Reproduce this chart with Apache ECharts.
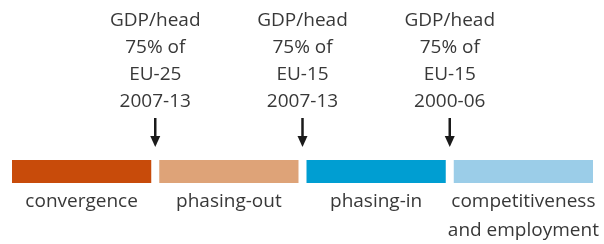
<!DOCTYPE html>
<html>
<head>
<meta charset="utf-8">
<script src="https://cdn.jsdelivr.net/npm/echarts@6/dist/echarts.min.js"></script>
<style>
  html, body { margin: 0; padding: 0; background: #fff; }
  #chart { width: 604px; height: 244px; }
</style>
</head>
<body>
<div id="chart"></div>
<script>
// segments along the scale, left to right
const segments = ['convergence', 'phasing-out', 'phasing-in', 'competitiveness\nand employment']
const segmentWidths = [1, 1, 1, 1]
const segmentColors = ['#C84B0A', '#DEA378', '#009ED2', '#9BCDE8']
// thresholds (arrows) between the segments
const thresholdPositions = [1, 2, 3]
const thresholdLabels = [
  'GDP/head\n75% of\nEU-25\n2007-13',
  'GDP/head\n75% of\nEU-15\n2007-13',
  'GDP/head\n75% of\nEU-15\n2000-06'
]

const textColor = '#383838'
const font = '19px "Open Sans"'
const total = segmentWidths.reduce((a, b) => a + b, 0)

const chart = echarts.init(document.getElementById('chart'))

const barSeries = segments.map((name, i) => ({
  name: name,
  type: 'bar',
  stack: 'scale',
  xAxisIndex: 0,
  yAxisIndex: 0,
  barWidth: '100%',
  data: [segmentWidths[i]],
  itemStyle: { color: segmentColors[i], borderColor: '#fff', borderWidth: 4 },
  label: {
    show: true,
    position: 'bottom',
    distance: 0,
    formatter: name,
    color: textColor,
    fontFamily: 'Open Sans',
    fontSize: 19,
    lineHeight: 29
  }
}))

const arrowSeries = {
  type: 'custom',
  xAxisIndex: 1,
  yAxisIndex: 1,
  data: thresholdPositions.map((x, i) => [x, 0, i]),
  renderItem: function (params, api) {
    const p = api.coord([api.value(0), api.value(1)])
    const x = p[0]
    const base = p[1]
    return {
      type: 'group',
      children: [
        {
          type: 'text',
          style: {
            text: thresholdLabels[api.value(2)],
            x: x,
            y: base - 151,
            align: 'center',
            verticalAlign: 'top',
            font: font,
            lineHeight: 27,
            fill: textColor
          }
        },
        {
          type: 'line',
          shape: { x1: x, y1: base - 40, x2: x, y2: base - 20 },
          style: { stroke: '#1a1a1a', lineWidth: 2.5 }
        },
        {
          type: 'polygon',
          shape: { points: [[x - 5, base - 22], [x + 5, base - 22], [x, base - 11]] },
          style: { fill: '#1a1a1a' }
        }
      ]
    }
  }
}

chart.setOption({
  animation: false,
  grid: [
    { left: 8, right: 7, top: 156, height: 31 },
    { left: 8, right: 7, top: 0, height: 158 }
  ],
  xAxis: [
    { type: 'value', gridIndex: 0, min: 0, max: total, show: false },
    { type: 'value', gridIndex: 1, min: 0, max: total, show: false }
  ],
  yAxis: [
    { type: 'category', gridIndex: 0, data: ['scale'], show: false },
    { type: 'value', gridIndex: 1, min: 0, max: 1, show: false }
  ],
  series: barSeries.concat([arrowSeries])
})
</script>
</body>
</html>
